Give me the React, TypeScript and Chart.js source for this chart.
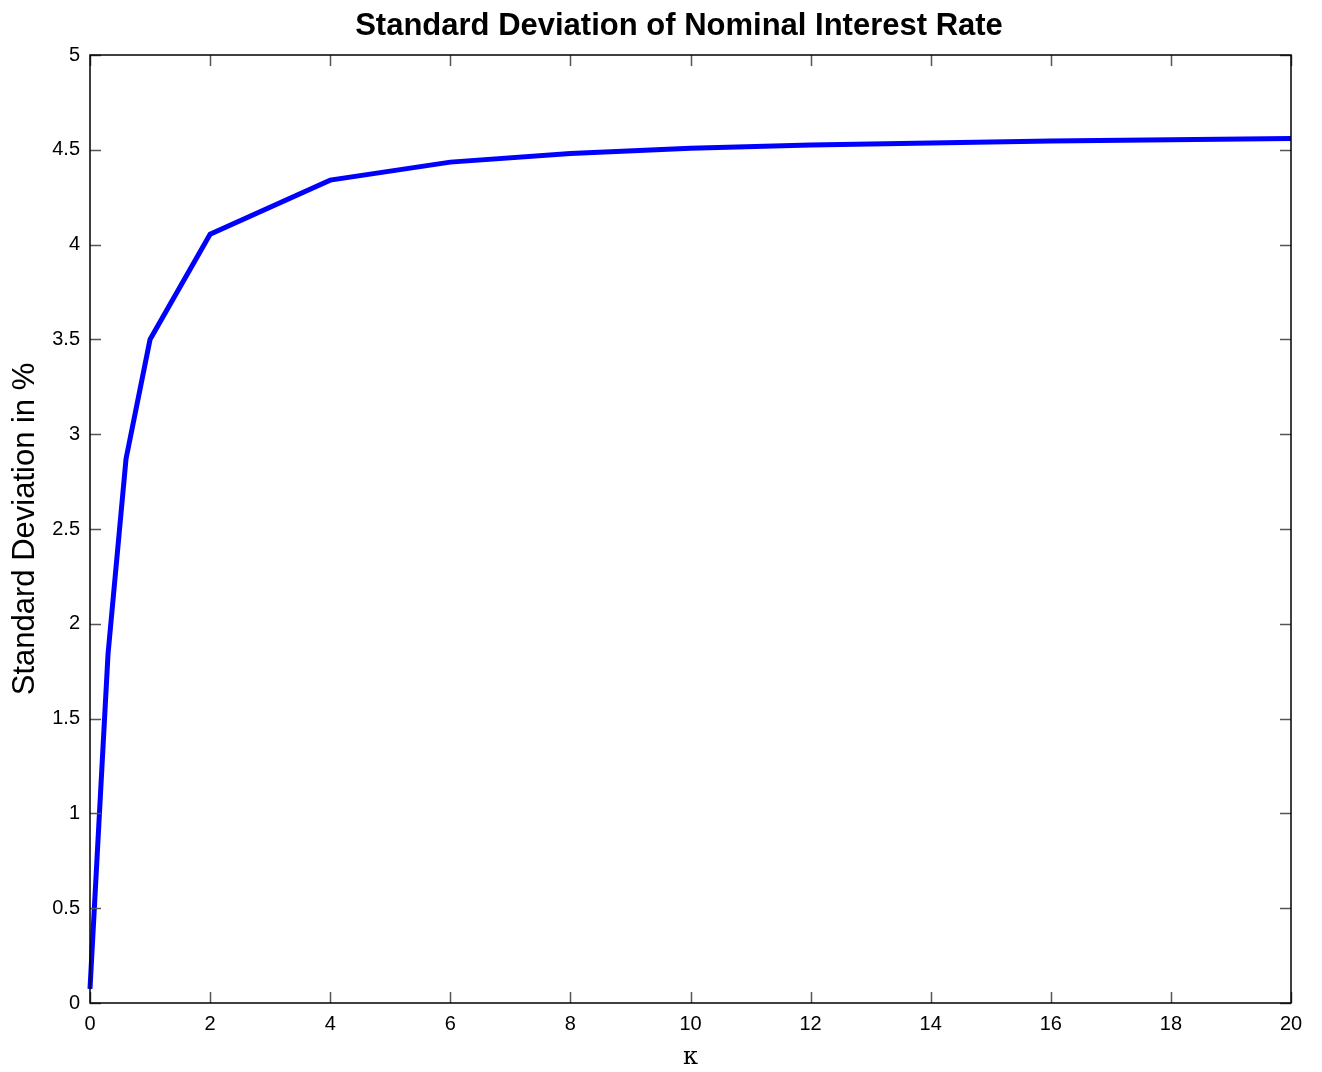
import React, { useEffect, useRef } from "react";
import { Chart, registerables } from "chart.js";

Chart.register(...registerables);

const kappa = [0, 0.3, 0.6, 1, 2, 4, 6, 8, 10, 12, 14, 16, 18, 20];
const stdDev = [0.075, 1.84, 2.87, 3.5, 4.055, 4.34, 4.435, 4.48, 4.508, 4.525, 4.536, 4.546, 4.553, 4.56];
const chartTitle = "Standard Deviation of Nominal Interest Rate";
const xTitle = "κ";
const yTitle = "Standard Deviation in %";

const boxTicks = {
  id: "boxTicks",
  afterDatasetsDraw(chart: any) {
    const { ctx, chartArea: a, scales } = chart;
    ctx.save();
    ctx.strokeStyle = "#555";
    ctx.lineWidth = 1.5;
    const len = 11;
    scales.x.ticks.forEach((t: any) => {
      const px = Math.round(scales.x.getPixelForValue(t.value)) + 0.5;
      ctx.beginPath();
      ctx.moveTo(px, a.bottom);
      ctx.lineTo(px, a.bottom - len);
      ctx.moveTo(px, a.top);
      ctx.lineTo(px, a.top + len);
      ctx.stroke();
    });
    scales.y.ticks.forEach((t: any) => {
      const py = Math.round(scales.y.getPixelForValue(t.value)) + 0.5;
      ctx.beginPath();
      ctx.moveTo(a.left, py);
      ctx.lineTo(a.left + len, py);
      ctx.moveTo(a.right, py);
      ctx.lineTo(a.right - len, py);
      ctx.stroke();
    });
    ctx.strokeStyle = "#000";
    ctx.lineWidth = 1.5;
    ctx.strokeRect(a.left, a.top, a.right - a.left, a.bottom - a.top);
    // title
    ctx.fillStyle = "#000";
    ctx.font = "bold 31px 'Liberation Sans', Arial";
    ctx.textAlign = "center";
    ctx.textBaseline = "middle";
    ctx.fillText(chartTitle, 679, 26);
    ctx.restore();
  },
};

export default function App() {
  const ref = useRef<HTMLCanvasElement>(null);
  useEffect(() => {
    document.body.style.margin = "0";
    const chart = new Chart(ref.current!, {
      type: "line",
      data: {
        datasets: [
          {
            data: kappa.map((k, i) => ({ x: k, y: stdDev[i] })),
            borderColor: "#0000ff",
            borderWidth: 5,
            pointRadius: 0,
            tension: 0,
            fill: false,
            clip: false as any,
          },
        ],
      },
      options: {
        animation: false,
        responsive: false,
        maintainAspectRatio: false,
        layout: { padding: { left: 0, right: 31, top: 55, bottom: 0 } },
        plugins: {
          legend: { display: false },
          tooltip: { enabled: false },
          title: { display: false },
        },
        scales: {
          x: {
            type: "linear",
            min: 0,
            max: 20,
            ticks: {
              stepSize: 2,
              color: "#000",
              font: { family: "Liberation Sans, Arial", size: 20 },
              padding: 9,
              callback: (v: any) => String(v),
            },
            grid: { display: false, drawTicks: false },
            border: { display: false },
            title: {
              display: true,
              text: xTitle,
              color: "#000",
              font: { family: "DejaVu Serif, Liberation Serif", size: 24 },
              padding: { top: 0, bottom: 0 },
            },
            afterFit: (s: any) => {
              s.height = 69;
            },
          },
          y: {
            type: "linear",
            min: 0,
            max: 5,
            ticks: {
              stepSize: 0.5,
              color: "#000",
              font: { family: "Liberation Sans, Arial", size: 20 },
              padding: 10,
              callback: (v: any) => String(v),
            },
            grid: { display: false, drawTicks: false },
            border: { display: false },
            title: {
              display: true,
              text: yTitle,
              color: "#000",
              font: { family: "Liberation Sans, Arial", size: 31 },
              padding: { top: 7, bottom: 8 },
            },
            afterFit: (s: any) => {
              s.width = 90;
            },
          },
        },
      },
      plugins: [boxTicks],
    });
    return () => chart.destroy();
  }, []);
  return (
    <div style={{ position: "absolute", left: 0, top: 0, width: 1322, height: 1072 }}>
      <canvas ref={ref} width={1322} height={1072} style={{ display: "block", background: "#fff" }} />
    </div>
  );
}
